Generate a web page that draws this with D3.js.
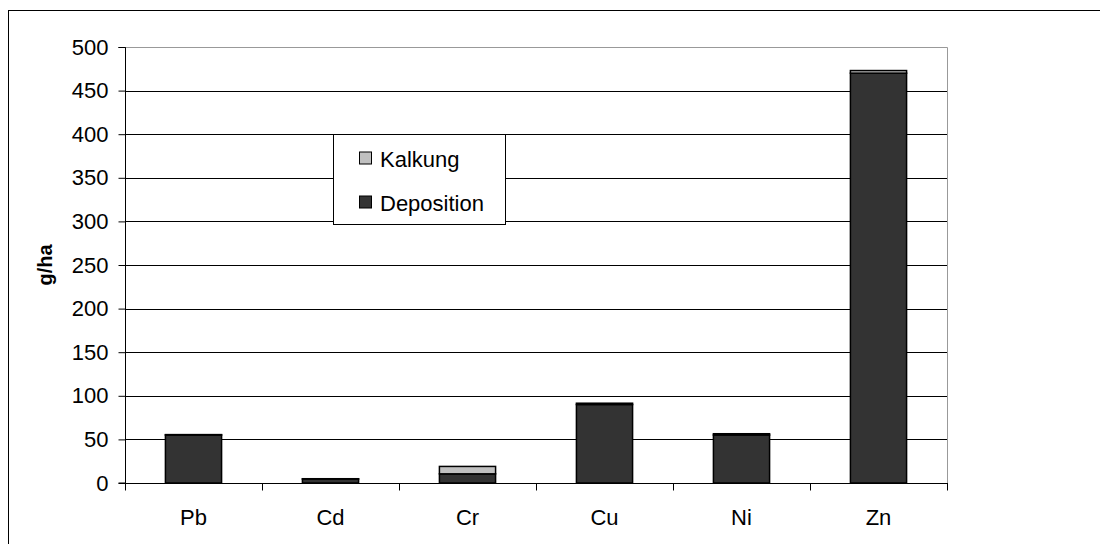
<!DOCTYPE html>
<html>
<head>
<meta charset="utf-8">
<script src="https://cdn.jsdelivr.net/npm/d3@7"></script>
<style>
  html, body { margin: 0; padding: 0; background: #fff; }
  svg { display: block; font-family: "Liberation Sans", Arial, sans-serif; }
</style>
</head>
<body>
<svg id="chart" width="1100" height="544"></svg>
<script>
// Metals and their input loads (g/ha), stacked: deposition at the bottom, liming on top
const categories = ["Pb", "Cd", "Cr", "Cu", "Ni", "Zn"];
const deposition = [55, 4.5, 10.5, 90, 55, 470];
const kalkung = [0.5, 0.4, 8.5, 1.5, 1.5, 3];
const yTicks = [0, 50, 100, 150, 200, 250, 300, 350, 400, 450, 500];
const seriesNames = ["Kalkung", "Deposition"];
const seriesColors = { Kalkung: "#c0c0c0", Deposition: "#333333" };

const svg = d3.select("#chart");
const plot = { left: 125, top: 47, right: 947, bottom: 483 };
const fontSize = 22;

// outer chart frame (runs past the right and bottom edges)
svg.append("rect")
  .attr("x", 8.5).attr("y", 10.5)
  .attr("width", 1200).attr("height", 600)
  .attr("fill", "none").attr("stroke", "#000").attr("stroke-width", 1);

const x = d3.scaleBand().domain(categories).range([plot.left, plot.right]).padding(0);
const y = d3.scaleLinear().domain([0, 500]).range([plot.bottom, plot.top]);
const barW = x.bandwidth() * 0.41;

// horizontal gridlines
svg.append("g").selectAll("line")
  .data(yTicks.filter(t => t > 0 && t < 500))
  .join("line")
  .attr("x1", plot.left).attr("x2", plot.right)
  .attr("y1", d => Math.round(y(d)) + 0.5).attr("y2", d => Math.round(y(d)) + 0.5)
  .attr("stroke", "#000").attr("stroke-width", 1);

// plot area top and right border
svg.append("path")
  .attr("d", `M${plot.left},${plot.top + 0.5}H${plot.right + 0.5}V${plot.bottom}`)
  .attr("fill", "none").attr("stroke", "#999").attr("stroke-width", 1);

// stacked bars
const rows = categories.map((c, i) => ({ cat: c, Deposition: deposition[i], Kalkung: kalkung[i] }));
const stack = d3.stack().keys(["Deposition", "Kalkung"])(rows);

svg.append("g").selectAll("g")
  .data(stack)
  .join("g")
  .attr("fill", d => seriesColors[d.key])
  .selectAll("rect")
  .data(d => d)
  .join("rect")
  .attr("x", d => x(d.data.cat) + (x.bandwidth() - barW) / 2)
  .attr("y", d => y(d[1]))
  .attr("width", barW)
  .attr("height", d => y(d[0]) - y(d[1]))
  .attr("stroke", "#000").attr("stroke-width", 1.5);

// y axis
const yAxis = svg.append("g")
  .attr("transform", `translate(${plot.left + 0.5},0)`)
  .call(d3.axisLeft(y).tickValues(yTicks).tickSize(7).tickPadding(10).tickFormat(d3.format("d")));
yAxis.select(".domain").attr("stroke", "#000").attr("d", `M-7,${plot.top + 0.5}H0V${plot.bottom}H-7`);
yAxis.selectAll(".tick line").attr("stroke", "#000");
yAxis.selectAll("text").attr("font-size", fontSize).attr("fill", "#000")
  .attr("font-family", "'Liberation Sans', Arial, sans-serif");

// x axis with ticks at category boundaries
const xAxis = svg.append("g").attr("transform", `translate(0,${plot.bottom + 0.5})`);
xAxis.append("line")
  .attr("x1", plot.left).attr("x2", plot.right + 1)
  .attr("stroke", "#000");
xAxis.selectAll("line.tick")
  .data(categories.map(c => x(c)).concat([plot.right]))
  .join("line").attr("class", "tick")
  .attr("x1", d => Math.round(d) + 0.5).attr("x2", d => Math.round(d) + 0.5)
  .attr("y1", 0).attr("y2", 7)
  .attr("stroke", "#000");
xAxis.selectAll("text")
  .data(categories)
  .join("text")
  .attr("x", d => x(d) + x.bandwidth() / 2)
  .attr("y", 41)
  .attr("text-anchor", "middle")
  .attr("font-size", fontSize)
  .text(d => d);

// y axis title
svg.append("text")
  .attr("transform", `translate(52,${(plot.top + plot.bottom) / 2}) rotate(-90)`)
  .attr("text-anchor", "middle")
  .attr("font-size", 20).attr("font-weight", "bold")
  .text("g/ha");

// legend
const legend = svg.append("g");
legend.append("rect")
  .attr("x", 333.5).attr("y", 134.5).attr("width", 172).attr("height", 90)
  .attr("fill", "#fff").attr("stroke", "#000").attr("stroke-width", 1);
seriesNames.forEach((name, i) => {
  const cy = 158.5 + i * 44;
  legend.append("rect")
    .attr("x", 359.5).attr("y", cy - 6.5).attr("width", 12).attr("height", 12)
    .attr("fill", seriesColors[name]).attr("stroke", "#000").attr("stroke-width", 1);
  legend.append("text")
    .attr("x", 380).attr("y", cy + 8.5)
    .attr("font-size", fontSize)
    .text(name);
});
</script>
</body>
</html>
